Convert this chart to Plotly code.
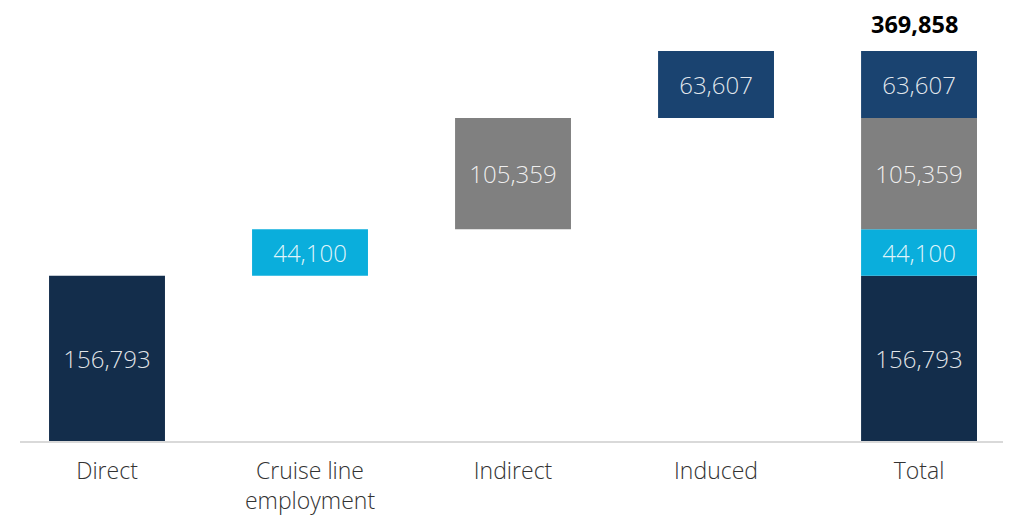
import plotly.graph_objects as go

categories = ["Direct", "Cruise line<br>employment", "Indirect", "Induced", "Total"]
components = ["Direct", "Cruise line<br>employment", "Indirect", "Induced"]
values = [156793, 44100, 105359, 63607]
total_label = 369858
colors = ["#132d4b", "#0aaedc", "#808080", "#1a4370"]

total = sum(values)
fig = go.Figure()
cum = 0
for name, v, c in zip(components, values, colors):
    fig.add_trace(go.Bar(
        x=[name, "Total"], y=[v, v], base=[cum, cum],
        marker=dict(color=c, line=dict(width=0)),
        width=0.571,
        text=[f"{v:,}", f"{v:,}"], textposition="inside", insidetextanchor="middle",
        textfont=dict(family="Open Sans", size=24, color="rgba(255,255,255,0.88)", weight=300),
        textangle=0, hoverinfo="skip", showlegend=False,
    ))
    cum += v

fig.add_annotation(x="Total", y=total, yref="y", xref="x", text=f"<b>{total_label:,}</b>",
                   showarrow=False, yanchor="bottom", yshift=9, xshift=-5,
                   font=dict(family="Open Sans", size=23.5, color="#000000"))

fig.update_layout(
    barmode="overlay",
    width=1003, height=515,
    margin=dict(l=12, r=0, t=2, b=82),
    paper_bgcolor="white", plot_bgcolor="white",
    uniformtext=dict(mode=False),
    xaxis=dict(categoryorder="array", categoryarray=categories, range=[-0.4286, 4.453],
               showline=True, linecolor="#d9d9d9", linewidth=2, ticks="", showgrid=False,
               ticklabelstandoff=8, automargin=False,
               tickfont=dict(family="Open Sans", size=23, color="#333333", weight=300)),
    yaxis=dict(range=[0, total * 431 / 390], visible=False, showgrid=False, zeroline=False,
               automargin=False),
)
fig.write_html("out.html")
